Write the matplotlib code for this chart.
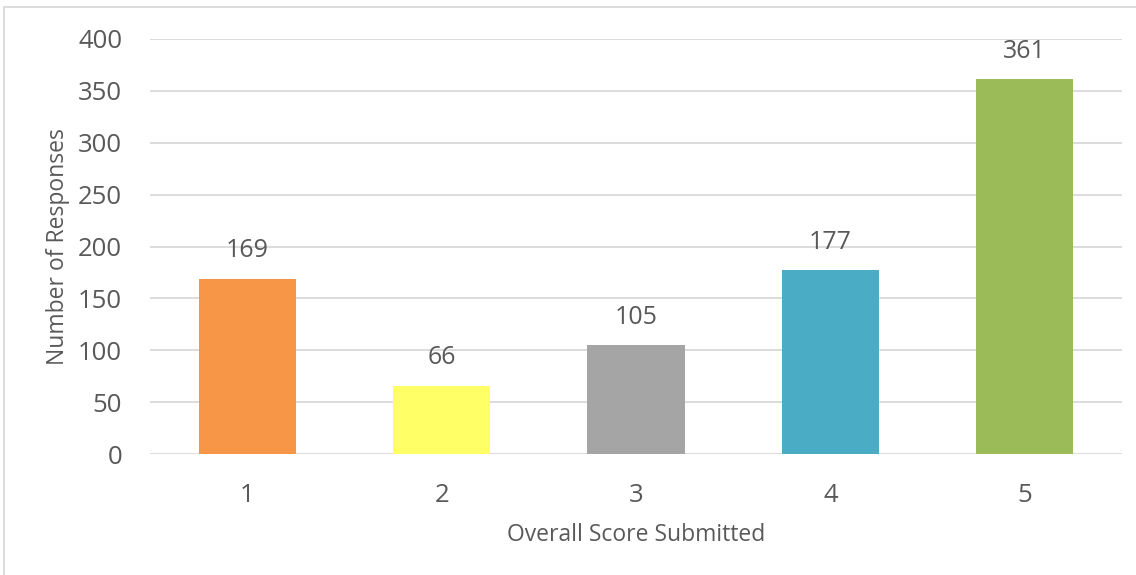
import matplotlib.pyplot as plt
from matplotlib.patches import Rectangle

# data
scores = ['1', '2', '3', '4', '5']
responses = [169, 66, 105, 177, 361]
colors = ['#F79646', '#FFFF66', '#A5A5A5', '#4BACC6', '#9BBB59']

plt.rcParams['font.family'] = ['Open Sans', 'DejaVu Sans']
txt = '#595959'

fig = plt.figure(figsize=(11.36, 5.75), dpi=100)
ax = fig.add_axes([0.132, 0.2104, 0.8557, 0.7218])

x = range(len(scores))
bars = ax.bar(x, responses, width=0.5, color=colors, zorder=2)

for b, v in zip(bars, responses):
    ax.annotate(str(v), (b.get_x() + b.get_width() / 2, v), xytext=(0, 11),
                textcoords='offset points', ha='center', va='bottom',
                fontsize=18, color=txt)

ax.set_xlim(-0.5, 4.5)
ax.set_ylim(0, 400)
ax.set_yticks(range(0, 401, 50))
ax.set_xticks(list(x))
ax.set_xticklabels(scores)
ax.tick_params(axis='both', length=0, labelsize=18.5, labelcolor=txt)
ax.tick_params(axis='x', pad=21)
ax.tick_params(axis='y', pad=20)
ax.grid(axis='y', color='#D9D9D9', linewidth=1.3, zorder=0)
for s in ax.spines.values():
    s.set_visible(False)

ax.set_xlabel('Overall Score Submitted', fontsize=16.5, color=txt, labelpad=11)
ax.set_ylabel('Number of Responses', fontsize=16.5, color=txt, labelpad=6)

# chart border
fig.patches.append(Rectangle((4 / 1136, -0.01), 1.2, 1 - 7 / 575 + 0.01,
                             transform=fig.transFigure, fill=False,
                             edgecolor='#D9D9D9', linewidth=1.3))

fig.savefig('out.png', dpi=100)
